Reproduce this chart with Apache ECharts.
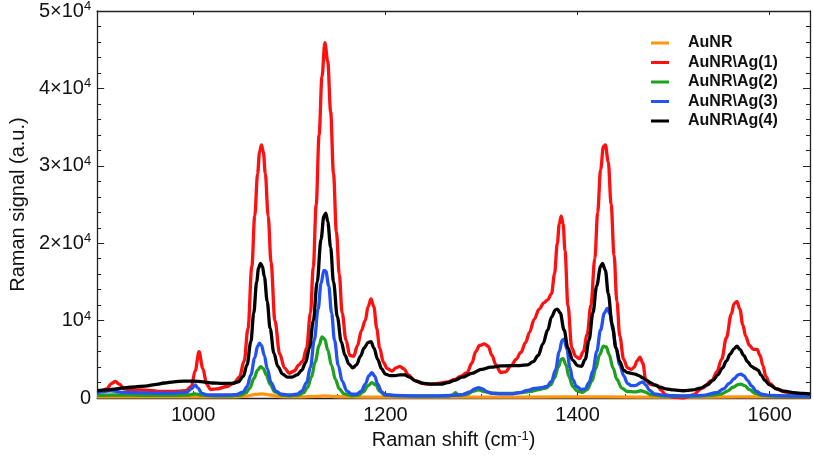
<!DOCTYPE html>
<html>
<head>
<meta charset="utf-8">
<script src="https://cdn.jsdelivr.net/npm/echarts@6/dist/echarts.min.js"></script>
<style>html,body{margin:0;padding:0;background:#fff}#c{width:813px;height:455px}</style>
</head>
<body>
<div id="c"></div>
<script>
const seriesNames = ['AuNR', 'AuNR\\Ag(1)', 'AuNR\\Ag(2)', 'AuNR\\Ag(3)', 'AuNR\\Ag(4)'];
const xTickLabels = [1000, 1200, 1400, 1600];
const yTickValues = [0, 10000, 20000, 30000, 40000, 50000];

const auNR = [[900,150],[950,150],[1000,150],[1040,150],[1055,250],[1065,480],[1072,550],[1080,400],[1090,200],[1110,150],[1128,220],[1137,300],[1146,200],[1160,150],[1200,120],[1300,120],[1380,150],[1430,150],[1500,120],[1570,150],[1642,150]];

const auNRAg1 = [[900,900],[905,950],[910,1200],[915,1900],[919,2150],[923,1800],[928,1200],[935,1050],[945,1050],[955,1000],[965,850],[975,850],[985,900],[992,950],[998,1500],[1002,3500],[1006,6000],[1010,3800],[1014,1800],[1018,1100],[1025,1200],[1035,1500],[1042,1900],[1048,2700],[1053,4800],[1057,9000],[1061,17000],[1064,23500],[1067,29000],[1069,31800],[1071,32700],[1073,31800],[1075,29000],[1078,23500],[1081,17500],[1085,10000],[1090,5700],[1095,3900],[1100,3200],[1105,3500],[1110,4300],[1114,4800],[1118,6500],[1122,11000],[1125,17000],[1128,25000],[1131,34000],[1134,41500],[1137,45900],[1140,43500],[1143,37000],[1146,29000],[1149,21500],[1152,16000],[1155,11000],[1159,7500],[1163,5500],[1167,5400],[1171,6800],[1175,8700],[1179,10000],[1182,11800],[1185,12800],[1188,11800],[1191,9000],[1194,6500],[1198,4600],[1202,3800],[1207,3500],[1211,3900],[1215,4100],[1219,3800],[1224,3000],[1230,2300],[1238,1900],[1245,1800],[1255,1900],[1265,2100],[1272,2400],[1278,2800],[1285,3300],[1290,4500],[1294,6000],[1298,6800],[1303,7000],[1307,6700],[1311,5500],[1315,4300],[1320,3300],[1325,3400],[1331,4200],[1336,5000],[1341,5900],[1346,7200],[1350,8500],[1355,10200],[1360,11500],[1365,12300],[1369,12700],[1373,13500],[1376,16000],[1379,20000],[1381,22500],[1383,23500],[1385,22500],[1387,19000],[1390,12000],[1394,6500],[1398,5400],[1402,5100],[1406,6000],[1410,8200],[1414,12000],[1418,18000],[1421,24000],[1424,29500],[1427,32500],[1429,32700],[1432,30500],[1435,25000],[1438,18500],[1441,12500],[1444,8000],[1448,5000],[1452,3900],[1456,3700],[1459,4000],[1462,4800],[1465,5300],[1468,4500],[1471,2400],[1475,1800],[1479,1700],[1483,1650],[1487,1000],[1492,400],[1500,100],[1510,0],[1520,400],[1530,1300],[1540,2300],[1545,3400],[1550,5000],[1555,7800],[1560,10800],[1563,12200],[1566,12450],[1569,11500],[1572,9500],[1575,8000],[1579,6800],[1583,6300],[1587,6300],[1590,5500],[1593,4200],[1596,2800],[1600,1900],[1607,1200],[1615,800],[1625,550],[1635,450],[1642,400]];

const auNRAg2 = [[900,350],[920,400],[950,350],[980,350],[995,400],[1002,550],[1008,400],[1020,300],[1040,300],[1050,400],[1055,700],[1059,1300],[1063,2500],[1067,3600],[1070,4050],[1073,3800],[1076,3000],[1080,1800],[1085,800],[1092,400],[1100,300],[1110,400],[1115,700],[1119,1400],[1123,2700],[1127,4700],[1131,6800],[1134,7900],[1137,7600],[1140,6200],[1144,4200],[1148,2400],[1152,1200],[1157,550],[1165,300],[1172,400],[1177,800],[1182,1600],[1186,2000],[1190,1700],[1194,900],[1199,400],[1210,300],[1240,250],[1265,250],[1270,400],[1273,700],[1276,350],[1285,500],[1292,900],[1297,1050],[1303,850],[1310,650],[1320,600],[1330,600],[1340,700],[1350,850],[1360,1100],[1367,1300],[1372,1700],[1376,2600],[1380,4000],[1383,5000],[1385,5100],[1388,4300],[1391,2800],[1395,1500],[1400,900],[1405,750],[1410,1100],[1415,2200],[1419,3800],[1423,5600],[1427,6700],[1430,6600],[1433,5600],[1437,3900],[1441,2400],[1446,1300],[1452,850],[1460,800],[1466,950],[1470,800],[1476,450],[1490,250],[1520,250],[1540,350],[1550,550],[1556,900],[1562,1400],[1567,1750],[1570,1800],[1574,1600],[1579,1100],[1585,600],[1592,350],[1610,250],[1642,200]];

const auNRAg3 = [[900,700],[905,800],[912,950],[918,900],[925,750],[940,700],[960,650],[980,650],[993,750],[998,1200],[1002,1700],[1005,1300],[1009,600],[1015,400],[1030,400],[1045,450],[1052,800],[1056,1500],[1060,3000],[1064,5200],[1067,6700],[1069,7100],[1071,6800],[1074,5500],[1077,3800],[1081,2000],[1086,900],[1092,500],[1100,400],[1108,500],[1113,900],[1118,2000],[1122,4000],[1126,7500],[1130,11500],[1133,14800],[1136,16500],[1138,16400],[1141,14500],[1144,11000],[1147,7500],[1151,4200],[1155,2200],[1160,900],[1165,500],[1170,500],[1175,900],[1179,1800],[1183,2900],[1186,3300],[1189,2800],[1192,1800],[1196,800],[1200,450],[1210,350],[1230,300],[1250,300],[1270,350],[1280,450],[1288,800],[1293,1200],[1297,1350],[1301,1200],[1306,800],[1312,600],[1320,550],[1330,550],[1340,700],[1348,1000],[1355,1250],[1362,1350],[1368,1500],[1373,2200],[1377,3600],[1381,6000],[1384,7500],[1386,7600],[1389,6300],[1392,4000],[1395,2400],[1399,1500],[1404,1100],[1408,1200],[1412,2000],[1416,3500],[1420,6000],[1424,8800],[1428,11000],[1431,11600],[1434,10800],[1437,8800],[1440,6500],[1444,4300],[1448,2900],[1452,1900],[1456,1600],[1461,1650],[1465,1950],[1468,2100],[1471,1700],[1475,1000],[1480,550],[1490,350],[1510,300],[1530,350],[1545,700],[1552,1200],[1558,1900],[1563,2500],[1567,3000],[1570,3100],[1573,2900],[1577,2300],[1581,1600],[1586,900],[1592,500],[1600,350],[1620,300],[1642,250]];

const auNRAg4 = [[900,950],[910,1050],[920,1200],[930,1350],[940,1450],[950,1550],[960,1750],[970,1950],[980,2100],[990,2200],[1000,2200],[1010,2100],[1020,1950],[1030,1900],[1040,1900],[1047,2100],[1052,2800],[1056,4300],[1060,7300],[1063,11000],[1066,15000],[1068,16800],[1070,17400],[1072,17000],[1074,15700],[1077,12500],[1080,9000],[1084,5800],[1088,4100],[1093,3100],[1098,2700],[1103,2700],[1108,3000],[1113,3600],[1117,4600],[1121,6500],[1125,10000],[1129,15000],[1133,20500],[1136,23500],[1138,23900],[1140,22800],[1143,19500],[1146,15000],[1150,10500],[1154,7300],[1158,5500],[1162,4400],[1166,3900],[1170,4300],[1174,5400],[1178,6500],[1182,7200],[1185,7300],[1188,6500],[1192,5000],[1196,3800],[1200,3100],[1205,2900],[1210,2900],[1215,3000],[1220,3000],[1225,2700],[1232,2200],[1240,1900],[1250,1800],[1258,1800],[1265,2000],[1272,2300],[1280,2700],[1290,3200],[1300,3700],[1310,4000],[1320,4150],[1330,4200],[1340,4200],[1348,4300],[1354,4700],[1359,5500],[1364,7000],[1369,8800],[1373,10500],[1377,11400],[1379,11500],[1382,11000],[1386,8800],[1390,6500],[1395,4900],[1400,4200],[1404,4100],[1408,5000],[1412,7500],[1416,11000],[1420,14500],[1424,17000],[1426,17400],[1429,16500],[1432,13500],[1436,9500],[1440,6500],[1444,4700],[1448,3600],[1452,3300],[1456,3200],[1460,3100],[1464,2900],[1468,2600],[1472,2300],[1476,2000],[1480,1700],[1486,1400],[1492,1200],[1500,1050],[1510,950],[1520,1050],[1528,1300],[1535,1700],[1541,2300],[1546,3000],[1551,3900],[1555,4800],[1559,5700],[1563,6400],[1566,6700],[1569,6300],[1573,5500],[1577,4700],[1581,4100],[1585,3800],[1588,3600],[1591,3000],[1595,2300],[1600,1700],[1607,1200],[1615,900],[1625,700],[1635,600],[1642,550]];

const seriesData = [auNR, auNRAg1, auNRAg2, auNRAg3, auNRAg4];
const seriesColors = ['#ff9510', '#ff1010', '#1fa01f', '#2452f0', '#000000'];

const FONT = 'Liberation Sans, Arial, Helvetica, sans-serif';
const X_MIN = 900, X_MAX = 1642;
const rich = {
  b: {fontSize: 20, fontFamily: FONT, color: '#111', lineHeight: 22},
  s: {fontSize: 13, fontFamily: FONT, color: '#111', lineHeight: 13, verticalAlign: 'top'}
};
const lineCol = '#222';

const chart = echarts.init(document.getElementById('c'), null, {renderer: 'canvas'});
chart.setOption({
  animation: false,
  backgroundColor: '#fff',
  grid: {left: 86, right: 2, top: 10, bottom: 55, containLabel: false},
  legend: {
    orient: 'vertical', left: 646, top: 29,
    icon: 'rect', itemWidth: 18, itemHeight: 3, itemGap: 1.5,
    data: seriesNames,
    textStyle: {fontFamily: FONT, fontSize: 16, fontWeight: 'bold', color: '#111', lineHeight: 18, padding: [0, 0, 0, 14]}
  },
  xAxis: [
    {
      type: 'value', position: 'bottom', min: X_MIN, max: X_MAX, interval: 50,
      name: 'Raman shift (cm{s|-1})', nameLocation: 'middle', nameGap: 30,
      nameTextStyle: {fontFamily: FONT, fontSize: 20, color: '#111', rich: rich},
      axisLine: {show: true, onZero: false, lineStyle: {color: lineCol, width: 1.3}},
      axisTick: {show: true, inside: true, length: 4, lineStyle: {color: lineCol}},
      axisLabel: {margin: 7, fontFamily: FONT, fontSize: 20, color: '#111',
        formatter: v => (xTickLabels.indexOf(v) >= 0 ? String(v) : '')},
      splitLine: {show: false}
    },
    {
      type: 'value', position: 'bottom', min: X_MIN, max: X_MAX,
      axisLine: {show: false},
      axisTick: {show: true, inside: true, length: 7, customValues: xTickLabels, lineStyle: {color: lineCol}},
      axisLabel: {show: false, customValues: xTickLabels},
      splitLine: {show: false}
    },
    {
      type: 'value', position: 'top', min: X_MIN, max: X_MAX,
      axisLine: {show: true, onZero: false, lineStyle: {color: lineCol, width: 1.3}},
      axisTick: {show: true, inside: true, length: 4, customValues: xTickLabels, lineStyle: {color: lineCol}},
      axisLabel: {show: false, customValues: xTickLabels},
      splitLine: {show: false}
    }
  ],
  yAxis: [
    {
      type: 'value', position: 'left', min: 0, max: 50000, interval: 10000,
      name: 'Raman signal (a.u.)', nameLocation: 'middle', nameGap: 64,
      nameTextStyle: {fontFamily: FONT, fontSize: 20, color: '#111'},
      axisLine: {show: true, onZero: false, lineStyle: {color: lineCol, width: 1.3}},
      axisTick: {show: true, inside: true, length: 7, lineStyle: {color: lineCol}},
      minorTick: {show: true, splitNumber: 5, length: 4, lineStyle: {color: lineCol}},
      axisLabel: {margin: 6, rich: rich,
        formatter: v => v === 0 ? '{b|0}' : (v === 10000 ? '{b|10}{s|4}' : '{b|' + (v / 10000) + '×10}{s|4}')},
      splitLine: {show: false}
    },
    {
      type: 'value', position: 'right', min: 0, max: 50000, interval: 10000,
      axisLine: {show: true, onZero: false, lineStyle: {color: lineCol, width: 1.3}},
      axisTick: {show: true, inside: true, length: 7, lineStyle: {color: lineCol}},
      minorTick: {show: true, splitNumber: 5, length: 4, lineStyle: {color: lineCol}},
      axisLabel: {show: false},
      splitLine: {show: false}
    }
  ],
  series: seriesNames.map((n, i) => ({
    name: n, type: 'line', xAxisIndex: 0, yAxisIndex: 0,
    data: seriesData[i], showSymbol: false, symbol: 'none',
    smooth: 0.35, smoothMonotone: 'x',
    lineStyle: {color: seriesColors[i], width: 3.3},
    itemStyle: {color: seriesColors[i]},
    clip: true
  }))
});
</script>
</body>
</html>
